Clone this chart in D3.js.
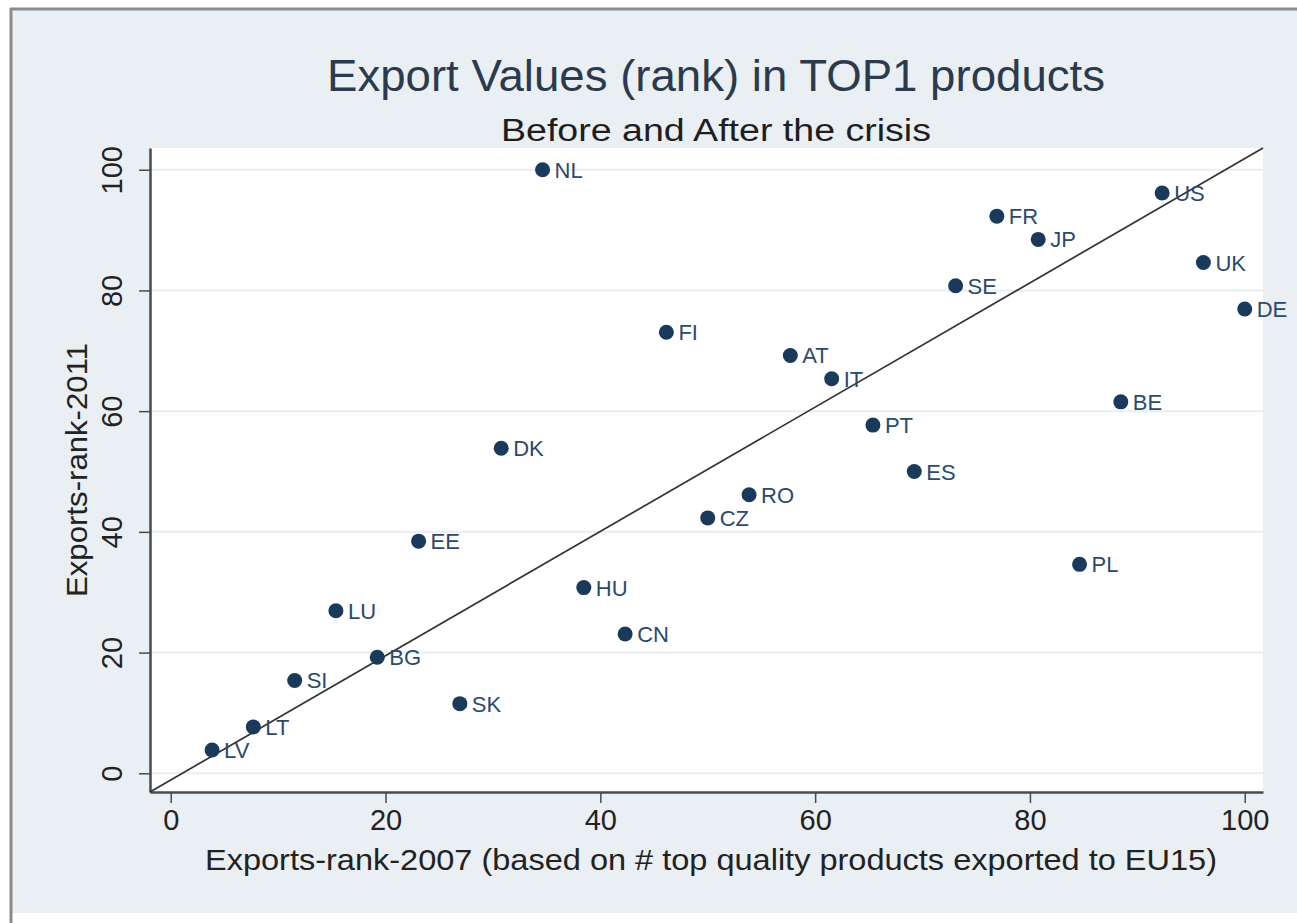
<!DOCTYPE html>
<html>
<head>
<meta charset="utf-8">
<script src="https://cdn.jsdelivr.net/npm/d3@7"></script>
<style>
  html, body { margin: 0; padding: 0; background: #ffffff; }
  svg { display: block; }
  text { font-family: "Liberation Sans", Arial, sans-serif; }
</style>
</head>
<body>
<svg id="chart" width="1297" height="923"></svg>
<script>
// ---- data ----
const countries = ["NL","US","FR","JP","UK","SE","DE","FI","AT","IT","BE","PT","DK","ES","RO","CZ","EE","PL","HU","LU","CN","BG","SI","SK","LT","LV"];
const rank2007 = [34.62,92.31,76.92,80.77,96.15,73.08,100,46.15,57.69,61.54,88.46,65.38,30.77,69.23,53.85,50,23.08,84.62,38.46,15.38,42.31,19.23,11.54,26.92,7.69,3.85];
const rank2011 = [100,96.15,92.31,88.46,84.62,80.77,76.92,73.08,69.23,65.38,61.54,57.69,53.85,50,46.15,42.31,38.46,34.62,30.77,26.92,23.08,19.23,15.38,11.54,7.69,3.85];
const xTicks = [0,20,40,60,80,100];
const yTicks = [0,20,40,60,80,100];
const xRange = [-1.93, 101.7];
const yRange = [-3.1, 103.6];
const refLineX = [-1.93, 101.7];
const refLineY = [-3.1, 103.6];
const titleText = "Export Values (rank) in TOP1 products";
const subtitleText = "Before and After the crisis";
const xTitle = "Exports-rank-2007 (based on # top quality products exported to EU15)";
const yTitle = "Exports-rank-2011";

// ---- layout ----
const svg = d3.select("#chart");
const plot = {left: 150, right: 1263, top: 148, bottom: 792};

// graph region background + frame
svg.append("rect").attr("x", 12).attr("y", 10).attr("width", 1285).attr("height", 903).attr("fill", "#e9eff3");
svg.append("line").attr("x1", 11).attr("x2", 11).attr("y1", 8).attr("y2", 923).attr("stroke", "#8c8c8c").attr("stroke-width", 3);
svg.append("line").attr("x1", 10).attr("x2", 1297).attr("y1", 9).attr("y2", 9).attr("stroke", "#8c8c8c").attr("stroke-width", 3);

const x = d3.scaleLinear().domain(xRange).range([plot.left, plot.right]);
const y = d3.scaleLinear().domain(yRange).range([plot.bottom, plot.top]);

// plot region
svg.append("rect").attr("x", plot.left).attr("y", plot.top)
  .attr("width", plot.right - plot.left).attr("height", plot.bottom - plot.top).attr("fill", "#ffffff");

// gridlines
svg.append("g").selectAll("line").data(yTicks).join("line")
  .attr("x1", plot.left).attr("x2", plot.right)
  .attr("y1", d => y(d)).attr("y2", d => y(d))
  .attr("stroke", "#e8eef1").attr("stroke-width", 2);

// axes
const xAxis = svg.append("g").attr("transform", `translate(0,${plot.bottom})`)
  .call(d3.axisBottom(x).tickValues(xTicks).tickSize(11).tickPadding(6).tickSizeOuter(0));
xAxis.select(".domain").attr("stroke", "#4a4a4a").attr("stroke-width", 2.5);
xAxis.selectAll(".tick line").attr("stroke", "#4a4a4a").attr("stroke-width", 1.5);
xAxis.selectAll(".tick text").attr("font-size", 29).attr("fill", "#222").attr("font-family", "Liberation Sans, Arial, sans-serif");

const yAxis = svg.append("g").attr("transform", `translate(${plot.left},0)`)
  .call(d3.axisLeft(y).tickValues(yTicks).tickSize(11).tickSizeOuter(0));
yAxis.select(".domain").attr("stroke", "#4a4a4a").attr("stroke-width", 2.5);
yAxis.selectAll(".tick line").attr("stroke", "#4a4a4a").attr("stroke-width", 1.5);
yAxis.selectAll(".tick text")
  .attr("font-size", 29).attr("fill", "#222").attr("font-family", "Liberation Sans, Arial, sans-serif")
  .attr("x", null).attr("dy", null)
  .attr("text-anchor", "middle")
  .attr("transform", "translate(-28,0) rotate(-90)");

// reference line
svg.append("line")
  .attr("x1", x(refLineX[0])).attr("y1", y(refLineY[0]))
  .attr("x2", x(refLineX[1])).attr("y2", y(refLineY[1]))
  .attr("stroke", "#333").attr("stroke-width", 1.7);

// points
const pts = countries.map((c, i) => ({c, x: rank2007[i], y: rank2011[i]}));
svg.append("g").selectAll("circle").data(pts).join("circle")
  .attr("cx", d => x(d.x)).attr("cy", d => y(d.y)).attr("r", 7.5)
  .attr("fill", "#1a3a5c");
svg.append("g").selectAll("text").data(pts).join("text")
  .attr("x", d => x(d.x) + 12).attr("y", d => y(d.y) + 8)
  .attr("font-size", 22).attr("fill", "#2a4a6e")
  .text(d => d.c);

// titles
svg.append("text").attr("x", 716).attr("y", 91).attr("text-anchor", "middle")
  .attr("font-size", 44).attr("fill", "#2b3a4c")
  .attr("textLength", 778).attr("lengthAdjust", "spacingAndGlyphs").text(titleText);
svg.append("text").attr("x", 716).attr("y", 141).attr("text-anchor", "middle")
  .attr("font-size", 31).attr("fill", "#1e1e1e")
  .attr("textLength", 430).attr("lengthAdjust", "spacingAndGlyphs").text(subtitleText);
svg.append("text").attr("x", 711).attr("y", 870).attr("text-anchor", "middle")
  .attr("font-size", 30).attr("fill", "#222")
  .attr("textLength", 1012).attr("lengthAdjust", "spacingAndGlyphs").text(xTitle);
svg.append("text").attr("transform", `translate(87,${(plot.top + plot.bottom) / 2}) rotate(-90)`)
  .attr("text-anchor", "middle").attr("font-size", 30).attr("fill", "#222")
  .attr("textLength", 254).attr("lengthAdjust", "spacingAndGlyphs").text(yTitle);
</script>
</body>
</html>
